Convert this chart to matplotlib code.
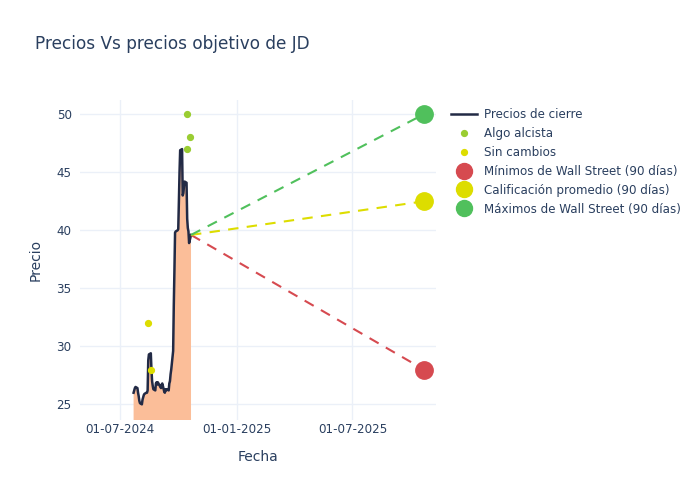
import matplotlib.pyplot as plt
import matplotlib.dates as mdates
from matplotlib.lines import Line2D
import numpy as np
import pandas as pd

# closing prices, business days 2024-07-23 .. 2024-10-21 (Labor Day skipped)
dates = pd.bdate_range('2024-07-23', '2024-10-21')
dates = dates[dates != pd.Timestamp('2024-09-02')]
closes = [26.0, 26.2, 26.4, 26.5, 26.4, 26.0, 25.7,
          25.3, 25.1, 25.0, 25.4, 25.6, 25.8, 25.9, 26.0, 26.0, 26.2,
          28.8, 29.3, 29.4, 28.0, 27.0, 26.6, 26.3, 26.2, 26.8, 26.9,
          26.7, 26.9,
          26.5, 26.4, 26.7, 26.8, 26.1, 26.0, 26.3, 26.2, 26.3, 26.2,
          26.8, 27.0, 27.6, 28.0, 29.6, 33.5, 36.5, 39.8, 39.9, 40.0,
          40.1, 42.5, 45.0, 46.9, 47.0, 43.0, 43.2, 43.8, 44.2, 44.1,
          41.0, 40.2, 39.9, 38.9, 39.6]

# analyst ratings
up_dates = ['2024-10-14', '2024-10-14', '2024-10-20']
up_prices = [50.0, 47.0, 48.0]
hold_dates = ['2024-08-15', '2024-08-19']
hold_prices = [32.0, 28.0]

# Wall Street targets (90 days)
target_date = pd.Timestamp('2025-10-21')
target_low = 28.0
target_avg = 42.5
target_high = 50.0

text_color = '#2a3f5f'
grid_color = '#ebf0f8'

fig = plt.figure(figsize=(7, 5), dpi=100)
ax = fig.add_axes([80 / 700, 80 / 500, 356 / 700, 320 / 500])

ax.fill_between(dates, closes, 0, color='#fbbe99', lw=0)
ax.plot(dates, closes, color='#222a45', lw=1.8, label='Precios de cierre')

ax.plot(pd.to_datetime(up_dates), up_prices, 'o', color='#9acd32', ms=4.2,
        label='Algo alcista')
ax.plot(pd.to_datetime(hold_dates), hold_prices, 'o', color='#dddd00', ms=4.2,
        label='Sin cambios')

last_date, last_price = dates[-1], closes[-1]
targets = [(target_low, '#d64a50', 'Mínimos de Wall Street (90 días)'),
           (target_avg, '#dddd00', 'Calificación promedio (90 días)'),
           (target_high, '#50c05c', 'Máximos de Wall Street (90 días)')]
for value, col, name in targets:
    ax.plot([last_date, target_date], [last_price, value], color=col, lw=1.5,
            dashes=(5, 4))
for value, col, name in targets:
    ax.plot([target_date], [value], 'o', color=col, ms=12.5, label=name)

ax.set_xlim(pd.Timestamp('2024-04-30'), pd.Timestamp('2025-11-09'))
ax.set_ylim(23.65, 51.23)
ax.set_yticks([25, 30, 35, 40, 45, 50])
ax.set_xticks(pd.to_datetime(['2024-07-01', '2025-01-01', '2025-07-01']))
ax.xaxis.set_major_formatter(mdates.DateFormatter('%d-%m-%Y'))
ax.grid(True, color=grid_color, lw=1)
ax.set_axisbelow(True)
for s in ax.spines.values():
    s.set_visible(False)
ax.tick_params(length=0, labelsize=8.6, labelcolor=text_color)
ax.tick_params(axis='x', pad=2.5)
ax.tick_params(axis='y', pad=6)

ax.set_xlabel('Fecha', fontsize=10, color=text_color, labelpad=10)
ax.set_ylabel('Precio', fontsize=10, color=text_color, labelpad=10)
fig.text(35 / 700, 1 - 44 / 500, 'Precios Vs precios objetivo de JD',
         fontsize=12.2, color=text_color, va='center', ha='left')

handles, labels = ax.get_legend_handles_labels()
handles[3:] = [Line2D([], [], ls='', marker='o', color=c, ms=11.5)
               for v, c, n in targets]
fig.legend(handles, labels, loc='upper left',
           bbox_to_anchor=(446 / 700, 1 - 103 / 500), frameon=False,
           fontsize=8.6, labelcolor=text_color, handlelength=2.2,
           labelspacing=0.5, borderaxespad=0, handletextpad=0.6)

fig.savefig('out.png', dpi=100)
